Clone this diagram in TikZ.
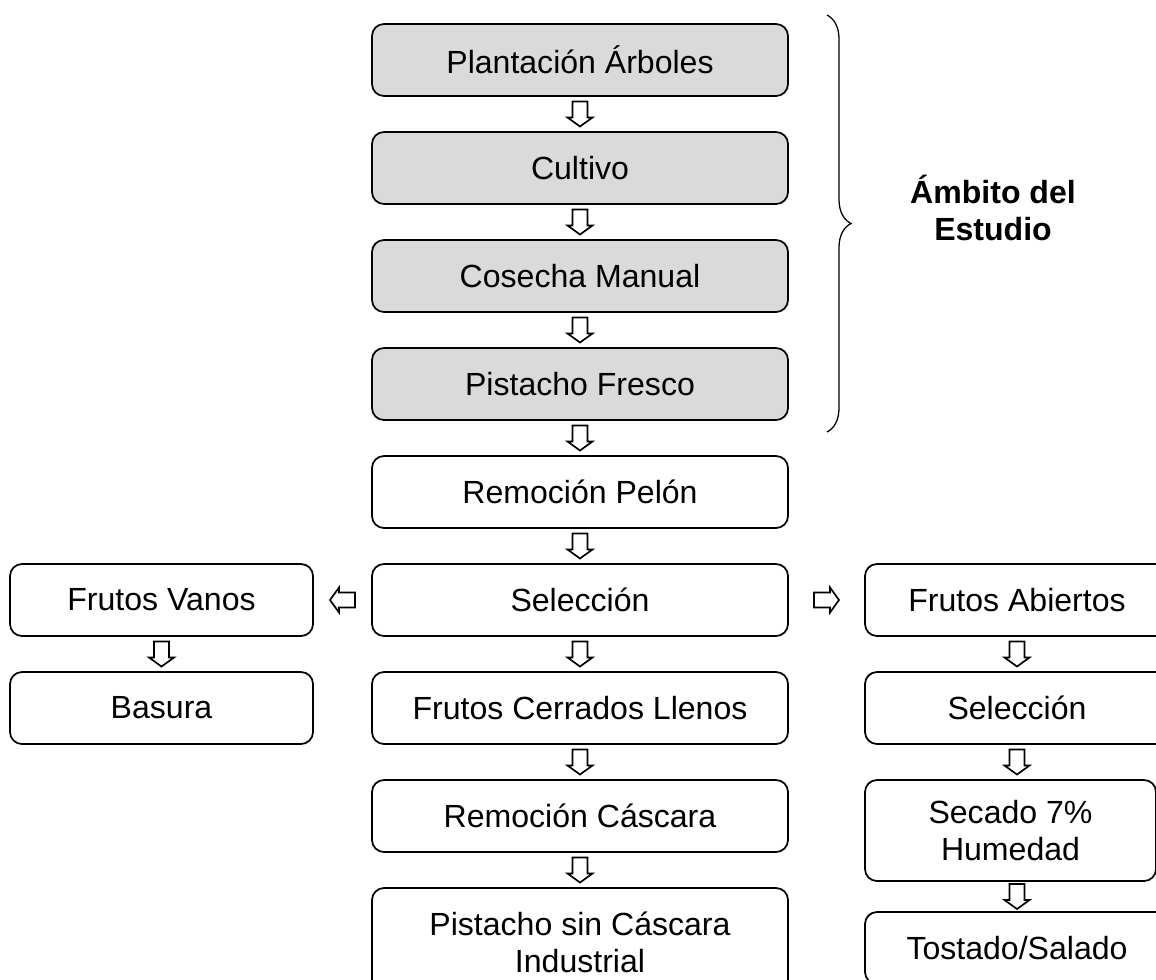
\documentclass[tikz,border=0pt]{standalone}
\usepackage{fontspec}
\setmainfont{Liberation Sans}
\usetikzlibrary{positioning,calc,decorations.pathreplacing}
\definecolor{grisclaro}{RGB}{218,218,218}
\newcommand{\tamano}{\fontsize{22.8}{26.5}\selectfont}
\tikzset{flecha/.pic={
  \draw[line width=1.2pt,fill=white] (-0.1875,0.3125) -- (0.1875,0.3125)
    -- (0.1875,-0.0875) -- (0.3125,-0.0875) -- (0,-0.3125)
    -- (-0.3125,-0.0875) -- (-0.1875,-0.0875) -- cycle;}}
\begin{document}
\begin{tikzpicture}
[line width=1.25pt,node distance=0.9cm,%
  every node/.style={font=\tamano,align=center,inner sep=0pt,outer sep=0pt},
  caja/.style={draw,rounded corners=0.3cm,minimum width=10.4cm,minimum height=1.8cm},
  cajalat/.style={caja,minimum width=7.575cm},
  cajader/.style={caja,minimum width=7.6cm},
  gris/.style={fill=grisclaro}]
\useasboundingbox (0,0) rectangle (28.9,-24.475);
% columna central
\node[caja,gris] (plant) at (14.5,-1.5) {Plantación Árboles};
\node[caja,gris,below=of plant] (cult) {Cultivo};
\node[caja,gris,below=of cult] (cos) {Cosecha Manual};
\node[caja,gris,below=of cos] (fresco) {Pistacho Fresco};
\node[caja,below=of fresco] (pelon) {Remoción Pelón};
\node[caja,below=of pelon] (sel) {Selección};
\node[caja,below=of sel] (cerr) {Frutos Cerrados Llenos};
\node[caja,below=of cerr] (casc) {Remoción Cáscara};
\node[caja,below=of casc,minimum height=2.7cm] (ind) {Pistacho sin Cáscara\\Industrial};
% columna izquierda
\node[cajalat,left=1.475cm of sel] (vanos) {Frutos Vanos};
\node[cajalat,below=of vanos] (basura) {Basura};
% columna derecha
\node[cajader,right=1.925cm of sel] (abier) {Frutos Abiertos};
\node[cajader,below=of abier] (sel2) {Selección};
\node[cajader,below=of sel2.south west,anchor=north west,minimum width=7.275cm,
  minimum height=2.525cm] (secado) {Secado 7\%\\Humedad};
\node[cajader,below=0.775cm of secado.south west,anchor=north west] (tost) {Tostado/Salado};
% flechas
\pic at ($(plant.south)!0.5!(cult.north)$) {flecha};
\pic at ($(cult.south)!0.5!(cos.north)$) {flecha};
\pic at ($(cos.south)!0.5!(fresco.north)$) {flecha};
\pic at ($(fresco.south)!0.5!(pelon.north)$) {flecha};
\pic at ($(pelon.south)!0.5!(sel.north)$) {flecha};
\pic at ($(sel.south)!0.5!(cerr.north)$) {flecha};
\pic at ($(cerr.south)!0.5!(casc.north)$) {flecha};
\pic at ($(casc.south)!0.5!(ind.north)$) {flecha};
\pic at ($(vanos.south)!0.5!(basura.north)$) {flecha};
\pic at ($(abier.south)!0.5!(sel2.north)$) {flecha};
\pic at ($(sel2.south)!0.5!(secado.north -| sel2.south)$) {flecha};
\pic at ($(secado.south -| sel2.south)!0.5!(tost.north)$) {flecha};
\pic[rotate=-90] at ($(sel.west)!0.5!(vanos.east)$) {flecha};
\pic[rotate=90] at ($(sel.east)!0.5!(abier.west)$) {flecha};
% llave
\draw[line width=0.9pt,decorate,decoration={brace,amplitude=0.6cm}]
  (20.675,-0.375) -- (20.675,-10.8);
\node[font=\tamano\bfseries] (ambito) at (24.825,-5.2) {Ámbito del\\Estudio};
\end{tikzpicture}
\end{document}
